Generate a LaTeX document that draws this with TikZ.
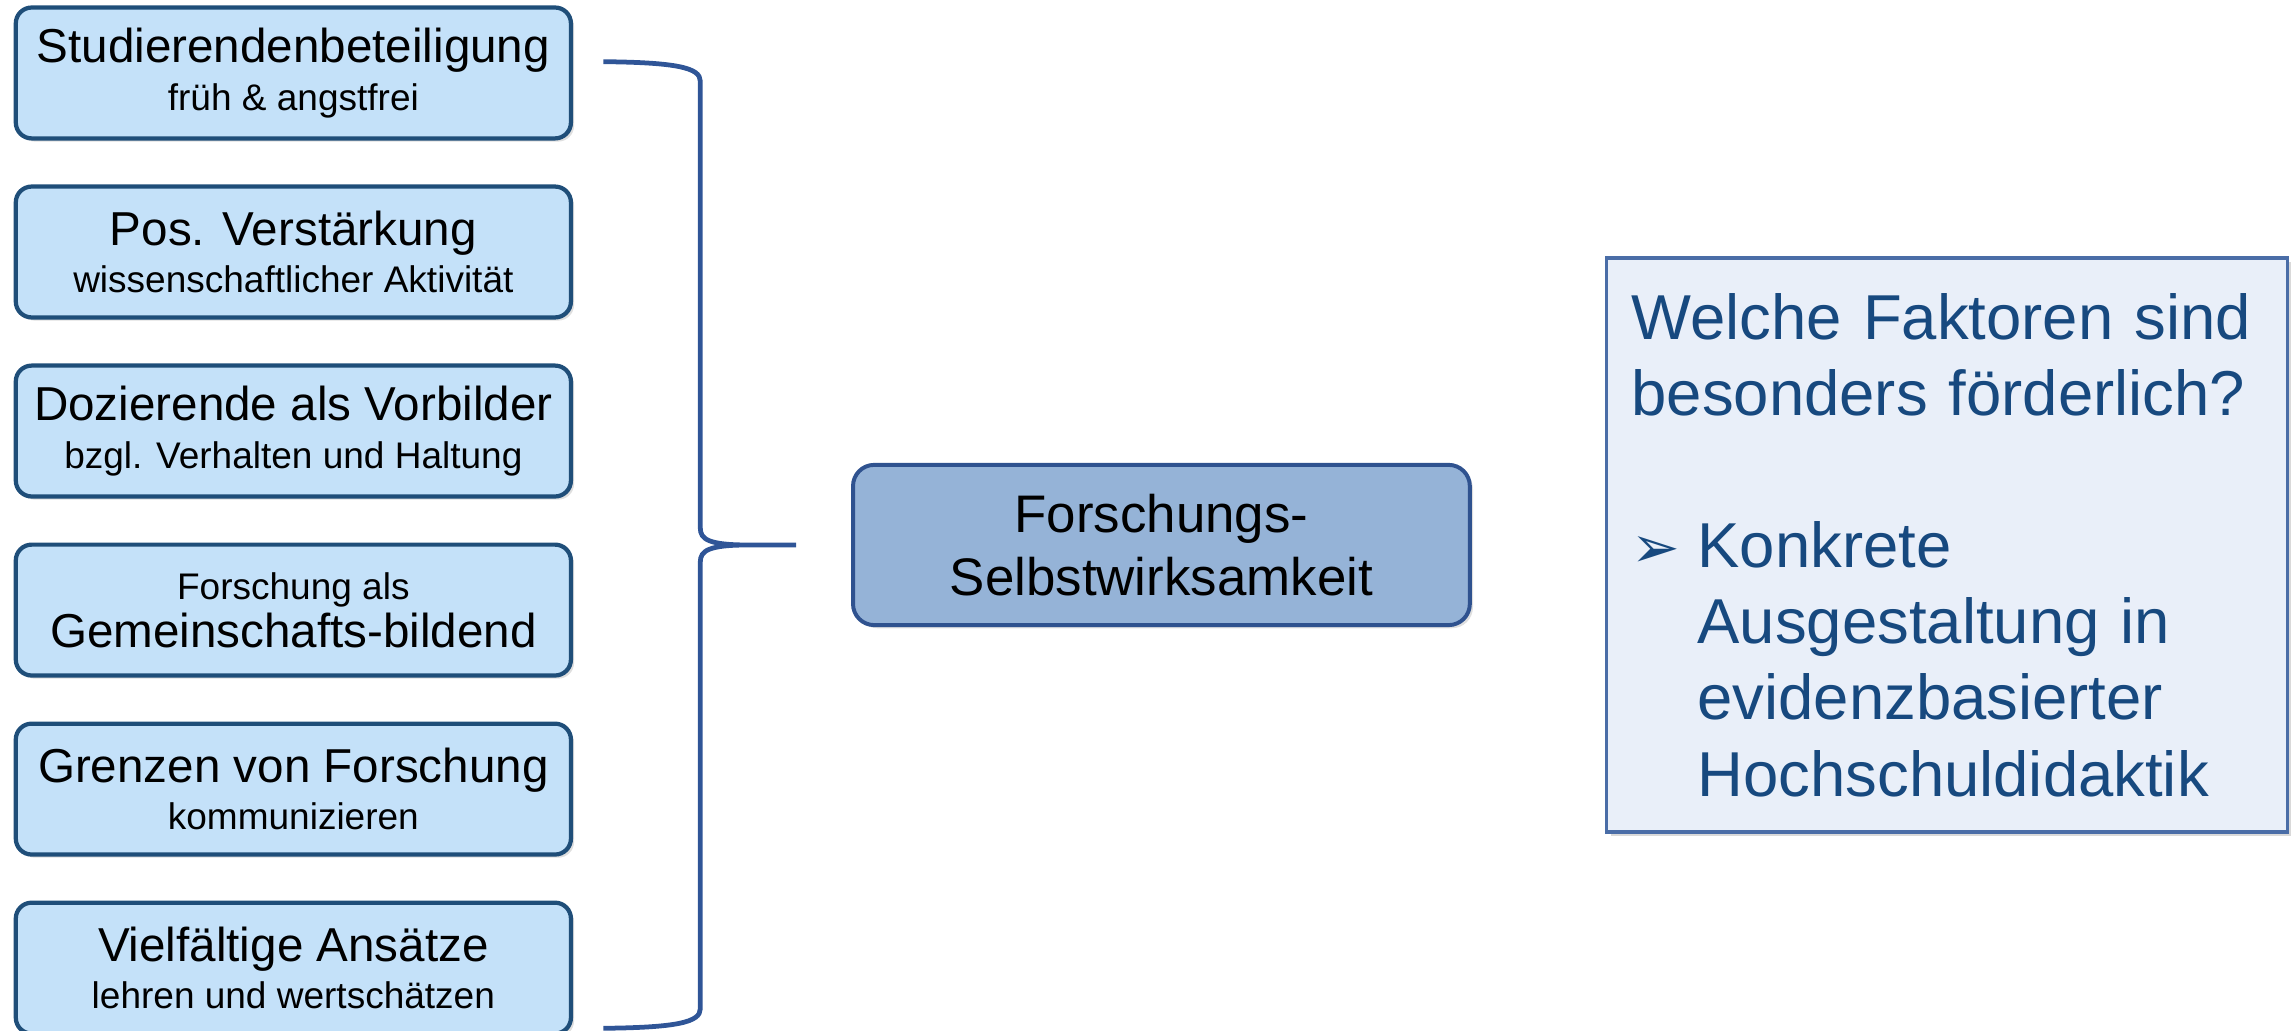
\documentclass[tikz,border=0pt]{standalone}
\usepackage{fontspec}
\setmainfont{Liberation Sans}
\newfontfamily\symfont{DejaVu Sans}
\usepackage{tikz}
\usetikzlibrary{positioning,shadows}

\definecolor{rand}{HTML}{1F4E79}
\definecolor{hellblau}{HTML}{C4E1F9}
\definecolor{mittelblau}{HTML}{95B3D7}
\definecolor{zielrand}{HTML}{2F528F}
\definecolor{klammer}{HTML}{2F5597}
\definecolor{fragefill}{HTML}{E9EFF9}
\definecolor{fragerand}{HTML}{4A6DA7}
\definecolor{fragetext}{HTML}{17497F}

\begin{document}
\begin{tikzpicture}[node distance=2.38cm,
        faktor/.style={draw=rand,fill=hellblau,line width=1.6pt,rounded corners=6pt,
          minimum width=7.38cm,minimum height=1.74cm,align=center,
          font=\fontsize{14}{18}\selectfont,
          drop shadow={shadow xshift=1.2pt,shadow yshift=-1.2pt,opacity=0.25}},
        ziel/.style={draw=zielrand,fill=mittelblau,line width=1.5pt,rounded corners=8pt,
          minimum width=8.2cm,minimum height=2.13cm,align=center,
          font=\fontsize{20}{24}\selectfont,
          drop shadow={shadow xshift=1.2pt,shadow yshift=-1.2pt,opacity=0.25}},
        frage/.style={draw=fragerand,fill=fragefill,line width=1.3pt,
          minimum width=9.05cm,minimum height=7.63cm,inner xsep=0.33cm,
          text width=8.39cm,align=left,text=fragetext,
          font=\fontsize{24}{28.8}\selectfont,
          drop shadow={shadow xshift=1.5pt,shadow yshift=-1.5pt,opacity=0.3}},
        klammerlinie/.style={draw=klammer,line width=1.8pt}]

  \useasboundingbox (0,0) rectangle (30.51,-13.705);

  \node[faktor] (1) at (3.90,-0.97)
    {{\fontsize{18}{18}\selectfont Studierendenbeteiligung}\\früh \& angstfrei};
  \node[faktor] (2) [below of=1]
    {{\fontsize{18}{18}\selectfont Pos. Verstärkung}\\wissenschaftlicher Aktivität};
  \node[faktor] (3) [below of=2]
    {{\fontsize{18}{18}\selectfont Dozierende als Vorbilder}\\bzgl. Verhalten und Haltung};
  \node[faktor] (4) [below of=3]
    {Forschung als\\{\fontsize{18}{18}\selectfont Gemeinschafts-bildend}};
  \node[faktor] (5) [below of=4]
    {{\fontsize{18}{18}\selectfont Grenzen von Forschung}\\kommunizieren};
  \node[faktor] (6) [below of=5]
    {{\fontsize{18}{18}\selectfont Vielfältige Ansätze}\\lehren und wertschätzen};

  \node[ziel] (fsw) at (15.44,-7.245) {Forschungs-\\Selbstwirksamkeit};

  \node[frage] (frage) [right=1.77cm of fsw]
    {Welche Faktoren sind\\besonders förderlich?\\[28.8pt]
     \makebox[0.877cm][l]{\symfont\fontsize{22}{28.8}\selectfont ➢}Konkrete\\
     \hspace*{0.877cm}Ausgestaltung in\\
     \hspace*{0.877cm}evidenzbasierter\\
     \hspace*{0.877cm}Hochschuldidaktik};

  % Klammer zwischen Faktoren und Ziel
  \coordinate (tip) at ([xshift=-0.73cm]fsw.west);
  \draw[klammerlinie] (8.02,-0.82) .. controls (9.0,-0.83) and (9.31,-0.90) .. (9.31,-1.08)
    -- (9.31,-7.02) .. controls (9.31,-7.17) and (9.42,-7.245) .. (9.95,-7.245) -- (tip)
    -- (9.95,-7.245) .. controls (9.42,-7.245) and (9.31,-7.32) .. (9.31,-7.47)
    -- (9.31,-13.41) .. controls (9.31,-13.59) and (9.0,-13.66) .. (8.02,-13.67);

\end{tikzpicture}
\end{document}
